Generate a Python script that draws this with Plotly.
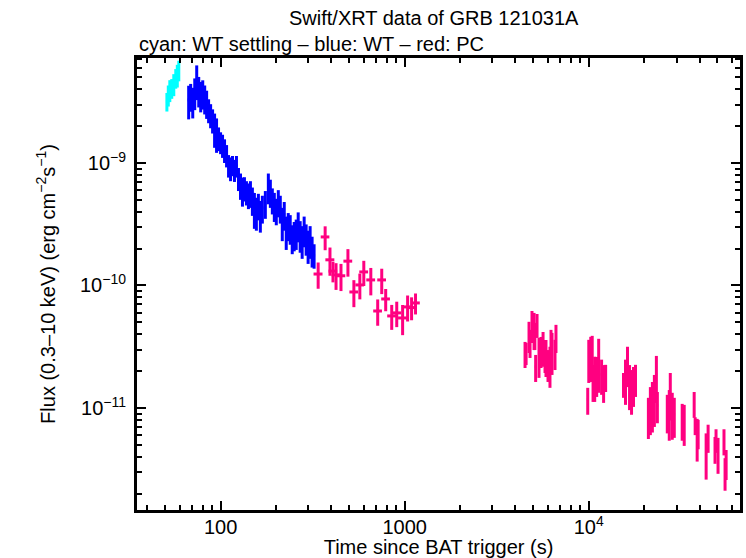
import plotly.graph_objects as go

# ---- WT settling (cyan) ----
wts_t = [51.1, 52.0, 53.0, 54.3, 55.7, 57.1, 58.2, 59.3]
wts_terr = [0.6, 0.6, 0.6, 0.6, 0.7, 0.7, 0.7, 0.7]
wts_f = [3.18e-9, 3.59e-9, 3.94e-9, 4.09e-9, 4.41e-9, 4.94e-9, 5.23e-9, 5.74e-9]
wts_ferr = [0.55e-9, 0.7e-9, 0.8e-9, 0.75e-9, 0.9e-9, 0.9e-9, 1.1e-9, 1.1e-9]

# ---- WT (blue) ----
wt_t = [67.1, 68.8, 70.6, 72.4, 74.2, 76.1, 78.0, 80.0, 82.0, 84.0,
        86.1, 88.3, 90.5, 92.8, 95.1, 97.5, 100.0, 102.5, 105.1, 107.8,
        110.5, 113.3, 116.1, 119.0, 122.0, 125.1, 128.3, 131.5, 134.8, 138.2,
        141.7, 145.3, 148.9, 152.7, 156.5, 160.5, 164.5, 168.7, 175.1, 181.8,
        186.4, 191.1, 195.9, 200.8, 205.9, 211.1, 216.4, 221.8, 227.4, 233.2,
        239.0, 245.1, 251.2, 257.6, 264.1, 270.7, 277.5, 284.5, 291.7, 299.0,
        306.6, 314.3, 322.2]
wt_terr = [0.8, 0.8, 0.9, 0.9, 0.9, 0.9, 1.0, 1.0, 1.0, 1.0,
           1.0, 1.1, 1.1, 1.1, 1.1, 1.2, 1.2, 1.2, 1.3, 1.3,
           1.3, 1.4, 1.4, 1.4, 1.5, 1.5, 1.5, 1.6, 1.6, 1.7,
           1.7, 1.7, 1.8, 1.8, 1.9, 1.9, 2.0, 2.0, 2.1, 2.2,
           2.2, 2.3, 2.4, 2.4, 2.5, 2.5, 2.6, 2.7, 2.7, 2.8,
           2.9, 2.9, 3.0, 3.1, 3.2, 3.2, 3.3, 3.4, 3.5, 3.6,
           3.7, 3.8, 3.9]
wt_f = [3.27e-9, 3.52e-9, 3.21e-9, 3.80e-9, 4.76e-9, 3.94e-9, 3.59e-9, 3.73e-9, 3.39e-9, 3.09e-9,
        2.71e-9, 2.47e-9, 2.24e-9, 1.93e-9, 1.76e-9, 1.60e-9, 1.48e-9, 1.40e-9, 1.28e-9, 1.16e-9,
        9.6e-10, 9.1e-10, 9.6e-10, 8.8e-10, 9.5e-10, 7.5e-10, 6.6e-10, 6.0e-10, 6.25e-10, 5.8e-10,
        5.5e-10, 5.7e-10, 5.0e-10, 4.3e-10, 4.0e-10, 4.5e-10, 3.8e-10, 4.3e-10, 4.7e-10, 6.4e-10,
        5.8e-10, 5.0e-10, 4.5e-10, 4.1e-10, 4.8e-10, 4.3e-10, 3.3e-10, 3.8e-10, 2.8e-10, 3.1e-10,
        2.95e-10, 2.45e-10, 2.6e-10, 2.7e-10, 3.1e-10, 2.6e-10, 2.35e-10, 2.85e-10, 2.45e-10, 2.15e-10,
        2.35e-10, 1.95e-10, 1.77e-10]
wt_ferr = [1.0e-9, 0.9e-9, 0.9e-9, 1.1e-9, 1.5e-9, 1.1e-9, 1.0e-9, 1.0e-9, 0.9e-9, 0.8e-9,
           0.6e-9, 0.55e-9, 0.5e-9, 0.6e-9, 0.55e-9, 0.35e-9, 0.3e-9, 0.3e-9, 0.28e-9, 0.24e-9,
           2.0e-10, 2.0e-10, 1.8e-10, 1.8e-10, 1.9e-10, 1.6e-10, 1.6e-10, 1.6e-10, 1.4e-10, 1.3e-10,
           1.3e-10, 1.4e-10, 1.3e-10, 1.4e-10, 1.2e-10, 1.1e-10, 1.1e-10, 1.1e-10, 1.2e-10, 1.8e-10,
           1.5e-10, 1.2e-10, 1.2e-10, 1.0e-10, 1.2e-10, 1.1e-10, 1.0e-10, 1.0e-10, 0.85e-10, 0.8e-10,
           0.8e-10, 0.65e-10, 0.7e-10, 0.75e-10, 0.85e-10, 0.75e-10, 0.7e-10, 0.8e-10, 0.7e-10, 0.65e-10,
           0.7e-10, 0.55e-10, 0.4e-10]

# ---- PC (red) ----
pc_t = [339, 370, 393, 408, 424, 451, 492, 530, 571, 600,
        655, 714, 751, 789, 851, 906, 975, 1038, 1091, 1146,
        4510, 4570, 4740, 4800, 4920, 5050, 5100, 5150, 5240, 5370,
        5510, 5650, 5790, 5860, 6010, 6160, 6240, 6320, 6560, 6640,
        9880, 10010, 10260, 10450, 10560, 10780, 11050, 11330, 11750, 12050, 12360,
        15450, 15850, 16250, 16670, 17090, 17520, 17960,
        21100, 21630, 22180, 22740, 23320, 23610,
        26730, 27400, 27750, 28440, 29170,
        32210, 33030,
        37410, 37880, 38840, 39320,
        43450, 44540,
        48560, 49180, 50430,
        54330, 55060, 55800]
pc_terr = [19, 20, 22, 22, 23, 25, 27, 29, 31, 33,
           36, 39, 41, 43, 47, 50, 54, 57, 60, 63,
           50, 50, 55, 55, 55, 55, 55, 55, 60, 60,
           60, 60, 60, 60, 65, 65, 65, 65, 70, 70,
           100, 100, 100, 100, 100, 110, 110, 110, 120, 120, 120,
           150, 150, 160, 160, 170, 170, 180,
           200, 200, 220, 220, 230, 230,
           260, 270, 270, 280, 290,
           310, 320,
           360, 370, 380, 390,
           420, 440,
           480, 490, 500,
           540, 550, 550]
pc_f = [1.24e-10, 2.49e-10, 1.62e-10, 1.31e-10, 1.22e-10, 1.20e-10, 1.58e-10, 8.85e-11, 1.01e-10, 1.29e-10,
        1.11e-10, 6.19e-11, 1.11e-10, 7.76e-11, 5.64e-11, 5.97e-11, 5.43e-11, 6.68e-11, 6.6e-11, 7.20e-11,
        2.79e-11, 2.82e-11, 3.93e-11, 3.45e-11, 4.79e-11, 4.47e-11, 3.96e-11, 2.17e-11, 4.79e-11, 2.75e-11,
        2.96e-11, 3.17e-11, 2.76e-11, 2.69e-11, 2.30e-11, 2.31e-11, 3.25e-11, 2.98e-11, 2.82e-11, 3.79e-11,
        1.17e-11, 2.60e-11, 2.72e-11, 2.96e-11, 1.68e-11, 1.87e-11, 1.92e-11, 2.50e-11, 1.88e-11, 1.67e-11, 1.80e-11,
        1.57e-11, 1.77e-11, 2.32e-11, 1.60e-11, 1.46e-11, 1.59e-11, 1.74e-11,
        8.84e-12, 1.04e-11, 1.13e-11, 1.28e-11, 1.88e-11, 1.05e-11,
        9.5e-12, 9.7e-12, 1.36e-11, 9.4e-12, 8.9e-12,
        8.1e-12, 7.75e-12,
        1.09e-11, 7.2e-12, 5.9e-12, 6.3e-12,
        4.4e-12, 5.8e-12,
        4.65e-12, 5.5e-12, 4.3e-12,
        5.4e-12, 3.0e-12, 3.56e-12]
pc_ferr = [3.0e-11, 5.5e-11, 4.2e-11, 2.5e-11, 3.0e-11, 3.0e-11, 4.0e-11, 2.2e-11, 2.4e-11, 3.0e-11,
           2.8e-11, 1.5e-11, 2.6e-11, 1.6e-11, 1.3e-11, 1.4e-11, 1.5e-11, 1.6e-11, 1.4e-11, 1.4e-11,
           0.67e-11, 0.58e-11, 1.12e-11, 0.89e-11, 1.40e-11, 1.50e-11, 0.99e-11, 0.54e-11, 1.06e-11, 0.99e-11,
           0.84e-11, 1.0e-11, 0.83e-11, 0.9e-11, 0.67e-11, 0.85e-11, 1.09e-11, 1.12e-11, 0.78e-11, 0.98e-11,
           0.29e-11, 1.0e-11, 1.09e-11, 0.92e-11, 0.56e-11, 0.75e-11, 0.69e-11, 1.17e-11, 0.6e-11, 0.57e-11, 0.45e-11,
           0.36e-11, 0.71e-11, 0.84e-11, 0.64e-11, 0.58e-11, 0.57e-11, 0.51e-11,
           3.26e-12, 4.4e-12, 5.0e-12, 5.8e-12, 7.8e-12, 3.0e-12,
           3.3e-12, 4.3e-12, 5.7e-12, 3.9e-12, 3.2e-12,
           2.7e-12, 2.85e-12,
           2.6e-12, 1.2e-12, 2.25e-12, 1.7e-12,
           1.8e-12, 1.5e-12,
           1.15e-12, 1.2e-12, 1.4e-12,
           1.3e-12, 0.89e-12, 0.98e-12]

# axis tick labels
x_tickvals = [100, 1000, 10000]
x_ticktext = ["100", "1000", "10<sup>4</sup>"]
y_tickvals = [1e-11, 1e-10, 1e-9]
y_ticktext = ["10<sup>\u221211</sup>", "10<sup>\u221210</sup>", "10<sup>\u22129</sup>"]

x_minor = [m * 10 ** e for e in (1, 2, 3, 4) for m in range(2, 10)]
y_minor = [m * 10.0 ** e for e in (-12, -11, -10, -9) for m in range(2, 10)]

FONT = "Liberation Sans, Arial, Helvetica, sans-serif"
FS = 20


def err_trace(t, terr, f, ferr, color):
    return go.Scatter(
        x=t, y=f, mode="markers",
        marker=dict(size=1, color=color),
        error_x=dict(type="data", array=terr, symmetric=True, thickness=3, width=0, color=color),
        error_y=dict(type="data", array=ferr, symmetric=True, thickness=3, width=0, color=color),
        hoverinfo="x+y",
    )


fig = go.Figure()
fig.add_trace(err_trace(wt_t, wt_terr, wt_f, wt_ferr, "#0000FF"))
fig.add_trace(err_trace(wts_t, wts_terr, wts_f, wts_ferr, "#00FFFF"))
fig.add_trace(err_trace(pc_t, pc_terr, pc_f, pc_ferr, "#FF0080"))

axis_common = dict(
    type="log", showgrid=False, zeroline=False,
    showline=True, linewidth=3, linecolor="black", mirror="ticks",
    ticks="inside", ticklen=9, tickwidth=2, tickcolor="black",
    tickfont=dict(family=FONT, size=FS, color="black"),
)

fig.update_xaxes(
    **axis_common,
    range=[1.546, 4.822],
    tickvals=x_tickvals, ticktext=x_ticktext,
    ticklabelstandoff=-3,
    minor=dict(tickvals=x_minor, ticks="inside", ticklen=5, tickwidth=2, tickcolor="black", showgrid=False),
    title=dict(text="Time since BAT trigger (s)", font=dict(family=FONT, size=FS, color="black"), standoff=2),
)
fig.update_yaxes(
    **axis_common,
    range=[-11.833, -8.143],
    tickvals=y_tickvals, ticktext=y_ticktext,
    ticklabelstandoff=4,
    minor=dict(tickvals=y_minor, ticks="inside", ticklen=5, tickwidth=2, tickcolor="black", showgrid=False),
    title=dict(text="Flux (0.3\u201310 keV) (erg cm<sup>\u22122</sup>s<sup>\u22121</sup>)",
               font=dict(family=FONT, size=FS, color="black"), standoff=20),
)

fig.update_layout(
    width=746, height=558,
    margin=dict(l=137, r=3, t=58, b=48, pad=0),
    plot_bgcolor="white", paper_bgcolor="white",
    showlegend=False,
    font=dict(family=FONT, size=FS, color="black"),
    annotations=[
        dict(text="Swift/XRT data of GRB 121031A", xref="paper", yref="paper",
             x=0.493, y=1.0885, xanchor="center", yanchor="middle", showarrow=False,
             font=dict(family=FONT, size=FS, color="black")),
        dict(text="cyan: WT settling \u2013 blue: WT \u2013 red: PC", xref="paper", yref="paper",
             x=0.0, y=1.031, xanchor="left", yanchor="middle", showarrow=False,
             font=dict(family=FONT, size=FS, color="black")),
    ],
)

fig.write_html("out.html")
